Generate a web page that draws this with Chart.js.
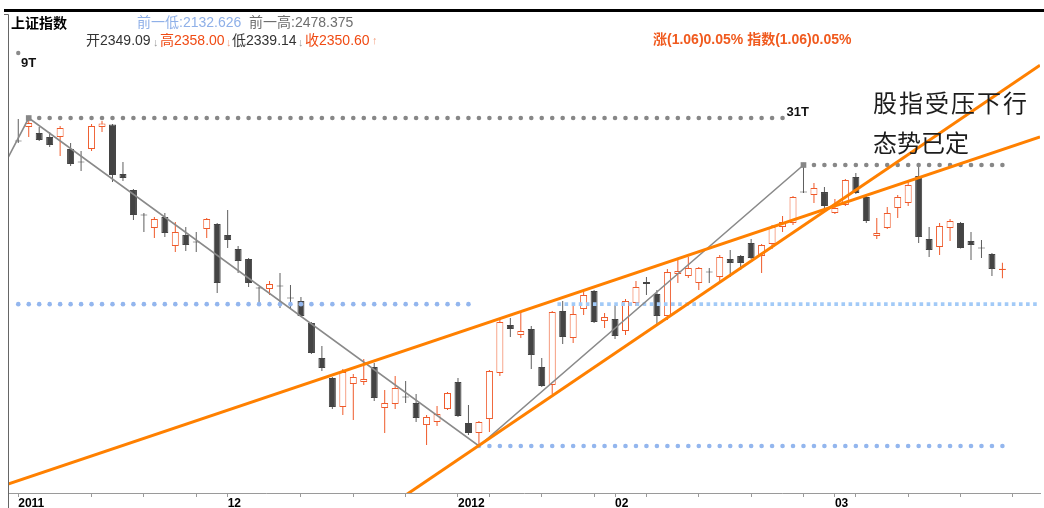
<!DOCTYPE html>
<html><head><meta charset="utf-8">
<script src="https://cdn.jsdelivr.net/npm/chart.js@4.4.0/dist/chart.umd.min.js"></script>
<style>html,body{margin:0;padding:0;background:#fff;overflow:hidden}#wrap{width:1044px;height:508px;position:relative}</style>
</head><body><div id="wrap"><canvas id="c"></canvas></div>
<script>
// ---- data ----
const dayIndex = Array.from({length:95},(_,k)=>k+1);
const openP = [2508.5,2525.1,2517.7,2512.8,2512.8,2498.1,2482.7,2498.1,2525.1,2528.2,
2467.3,2447.6,2417.5,2400.8,2414.4,2378.7,2392.2,2384.2,2399.6,2405.8,
2392.2,2375.0,2362.7,2327.6,2325.8,2330.1,2315.3,2311.0,2284.0,2240.9,
2216.3,2180.6,2208.9,2211.4,2229.8,2179.4,2184.3,2193.5,2185.5,2158.4,
2162.1,2178.1,2211.4,2160.9,2148.6,2165.8,2222.4,2281.5,2269.2,2276.6,
2229.8,2207.7,2298.7,2265.5,2301.2,2323.3,2286.4,2288.9,2274.1,2308.6,
2334.4,2319.6,2292.6,2344.2,2341.8,2333.2,2347.3,2340.6,2362.7,2366.4,
2382.4,2366.4,2381.2,2402.1,2407.0,2445.8,2441.5,2445.1,2419.3,2429.2,
2463.6,2439.0,2391.0,2400.8,2425.5,2431.6,2464.8,2387.3,2377.5,2400.8,
2407.0,2384.9,2376.9,2368.9,2349.09];
const highP = [2535.0,2536.2,2525.1,2519.0,2526.4,2505.4,2495.6,2528.8,2532.5,2528.8,
2482.1,2448.8,2419.3,2414.4,2419.3,2408.2,2402.1,2395.9,2413.2,2407.0,
2423.0,2378.7,2363.9,2328.2,2335.6,2345.5,2330.7,2315.9,2285.2,2255.7,
2217.5,2227.3,2221.2,2239.7,2234.7,2201.5,2218.7,2212.6,2196.6,2170.7,
2181.8,2199.0,2216.3,2183.1,2163.4,2226.1,2290.1,2290.1,2297.5,2280.3,
2240.9,2298.7,2311.0,2306.1,2323.3,2324.6,2296.3,2306.1,2313.5,2335.6,
2340.6,2324.6,2350.4,2361.5,2365.2,2352.9,2351.6,2367.6,2373.8,2367.6,
2387.3,2381.2,2404.5,2415.6,2440.2,2478.375,2456.2,2451.3,2436.5,2461.1,
2468.5,2440.2,2413.2,2426.7,2441.5,2457.5,2475.9,2402.1,2407.0,2411.9,
2408.2,2395.9,2386.1,2370.1,2358.00];
const lowP = [2505.4,2512.8,2507.9,2500.5,2489.4,2477.1,2471.0,2495.6,2519.0,2457.5,
2458.7,2410.7,2395.9,2388.5,2389.8,2371.3,2372.5,2371.3,2388.5,2320.9,
2376.2,2345.5,2328.2,2309.8,2318.4,2302.4,2302.4,2291.3,2245.8,2224.9,
2178.1,2170.7,2164.6,2207.7,2188.0,2148.6,2178.1,2185.5,2162.1,2133.8,
2157.2,2176.9,2168.3,2146.1,2132.63,2149.8,2218.7,2266.7,2265.5,2227.3,
2205.2,2196.6,2258.1,2259.3,2293.8,2284.0,2277.8,2264.3,2269.2,2304.9,
2318.4,2280.3,2287.6,2333.2,2339.3,2324.6,2333.2,2334.4,2340.6,2349.2,
2362.7,2345.5,2375.0,2395.9,2404.5,2443.9,2431.6,2425.5,2418.1,2427.9,
2442.7,2407.0,2387.3,2399.6,2413.2,2427.9,2382.4,2365.2,2367.6,2384.9,
2375.6,2361.5,2363.9,2341.8,2339.14];
const closeP = [2507.3,2530.1,2509.1,2503.0,2523.9,2479.6,2481.4,2526.4,2529.5,2466.1,
2462.4,2416.8,2416.2,2411.9,2394.7,2395.9,2379.9,2383.0,2411.9,2333.2,
2386.1,2360.2,2333.2,2326.4,2331.9,2328.9,2314.1,2292.6,2247.0,2228.6,
2180.6,2223.7,2217.5,2215.0,2191.7,2185.5,2204.0,2192.3,2167.1,2168.3,
2172.0,2197.8,2169.5,2148.6,2162.1,2224.9,2285.2,2276.6,2274.1,2244.6,
2206.4,2297.5,2266.7,2295.0,2318.4,2285.2,2291.3,2268.0,2311.0,2328.2,
2331.9,2292.6,2346.7,2347.9,2351.6,2351.6,2346.1,2365.2,2357.8,2357.8,
2363.9,2379.9,2402.1,2408.2,2439.0,2444.5,2450.1,2427.9,2425.5,2459.9,
2443.9,2409.5,2394.7,2419.3,2439.0,2453.8,2389.8,2373.8,2403.3,2409.5,
2376.2,2379.9,2375.6,2350.4,2350.60];

const tickIndex = [1,8,13,18,21,28,33,38,43,46,51,56,58,61,66,71,76,79,81,86,91,96];
const tickLabels = {1:'2011',21:'12',43:'2012',58:'02',79:'03'};

const prevLow = 2132.626, prevHigh = 2478.375;
const peak9T = 2536.2, peak9TIdx = 2, peak31TIdx = 76, lowIdx = 45;
const supportLevel = 2307.15;
// dotted level lines: [level, first day, last day]
const levelHighRange = [peak9T, 2, 74];
const levelPrevHighRange = [prevHigh, 76, 95];
const levelSupportRange = [supportLevel, 1, 44];
const levelLowRange = [prevLow, 45, 95];
const zigzagIdx = [0, 2, 45, 76];
const zigzagP = [2487.0, 2536.2, 2132.63, 2478.375];
const trendAIdx = [0.02, 98.59], trendAP = [2085.9, 2513.0];
const trendBIdx = [36, 98.59], trendBP = [2054.7, 2601.1];
const marker9TIdx = 1, marker9TP = 2616.2;

// ---- styles ----
const RED = '#ef5a2a', DARK = '#444444', WICKDARK = '#5e5e5e';
const isUp = k => closeP[k] >= openP[k];
const FONT = '"Liberation Sans", "Noto Sans CJK SC", Arial, sans-serif';
const CJK = '"Noto Sans CJK SC", sans-serif';

const pts = (xs, ys) => xs.map((x,k)=>({x, y: ys[k]}));
const levelDots = ([lv, a, b]) => dayIndex.filter(i => i >= a && i <= b).map(i => ({x: i, y: lv}));

const deco = {
  id: 'deco',
  afterDraw(chart){
    const ctx = chart.ctx, xs = chart.scales.x, ys = chart.scales.y;
    ctx.save();
    ctx.fillStyle = '#000';
    ctx.fillRect(4, 9, 1040, 3);
    ctx.strokeStyle = '#666'; ctx.lineWidth = 1;
    ctx.beginPath(); ctx.moveTo(4, 14.5); ctx.lineTo(8.5, 14.5); ctx.lineTo(8.5, 508); ctx.stroke();

    ctx.textBaseline = 'middle'; ctx.textAlign = 'left';
    const put = (t, x, y, color, font) => { ctx.font = font; ctx.fillStyle = color; ctx.fillText(t, x, y); };
    put('上证指数', 11, 23, '#000', 'bold 14px ' + CJK);
    put('前一低:' + prevLow.toFixed(3), 137, 23, '#8fb0e8', '14px ' + FONT);
    put('前一高:' + prevHigh.toFixed(3), 249, 23, '#6e6e6e', '14px ' + FONT);
    put('开2349.09', 86, 41, '#333', '14px ' + FONT);
    put('↓', 153, 43, '#9a9a9a', '11px ' + FONT);
    put('高2358.00', 160, 41, '#f04b14', '14px ' + FONT);
    put('↓', 226, 43, '#f4a080', '11px ' + FONT);
    put('低2339.14', 232, 41, '#333', '14px ' + FONT);
    put('↓', 298, 43, '#9a9a9a', '11px ' + FONT);
    put('收2350.60', 305, 41, '#f04b14', '14px ' + FONT);
    put('↑', 372, 41, '#f4a080', '11px ' + FONT);
    put('涨(1.06)0.05% 指数(1.06)0.05%', 653, 40, '#f05a1e', 'bold 14px ' + FONT);

    put('9T', 21, 63, '#111', 'bold 13px ' + FONT);
    put('31T', xs.getPixelForValue(74) + 4, ys.getPixelForValue(peak9T) - 6, '#111', 'bold 13px ' + FONT);

    ctx.font = '24px ' + CJK; ctx.fillStyle = '#1c1c1c';
    try { ctx.letterSpacing = '2px'; } catch(e) {}
    ctx.fillText('股指受压下行', 873, 103);
    try { ctx.letterSpacing = '0px'; } catch(e) {}
    ctx.fillText('态势已定', 873, 143);
    ctx.restore();
  }
};

const dotSet = (data, color) => ({ type:'line', showLine:false, data, pointRadius:2.3,
  pointBackgroundColor:color, pointBorderWidth:0, pointHoverRadius:0, order:6 });

new Chart(document.getElementById('c'), {
  type: 'bar',
  data: {
    datasets: [
      { type:'bar', data: dayIndex.map((i,k)=>({x:i, y:[lowP[k], highP[k]]})),
        backgroundColor: dayIndex.map((i,k)=> isUp(k) ? RED : WICKDARK),
        barThickness: 1, grouped: false, inflateAmount: 0, borderWidth: 0, order: 20 },
      { type:'bar', data: dayIndex.map((i,k)=>({x:i, y:[openP[k], closeP[k]]})),
        backgroundColor: dayIndex.map((i,k)=> isUp(k) ? '#ffffff' : DARK),
        borderColor: dayIndex.map((i,k)=> isUp(k) ? RED : DARK),
        borderWidth: 1, borderSkipped: false, barThickness: 7, grouped: false, inflateAmount: 0, order: 19 },
      // dotted level lines
      dotSet(levelDots(levelHighRange), '#878787'),
      dotSet(levelDots(levelPrevHighRange), '#878787'),
      dotSet(levelDots(levelSupportRange), '#93b6ee'),
      dotSet(levelDots(levelLowRange), '#93b6ee'),
      { type:'line', data: pts([52.5, 98.59], [supportLevel, supportLevel]), borderColor:'#a2caf7', borderWidth:3.8,
        borderDash:[3.6, 3.5], borderCapStyle:'butt', pointRadius:0, order:6 },
      // zigzag
      { type:'line', data: pts(zigzagIdx, zigzagP), borderColor:'#8a8a8a', borderWidth:1.6, pointRadius:0, tension:0, order:5 },
      // trend lines
      { type:'line', data: pts(trendAIdx, trendAP), borderColor:'#ff8000', borderWidth:3, pointRadius:0, order:2 },
      { type:'line', data: pts(trendBIdx, trendBP), borderColor:'#ff8000', borderWidth:3, pointRadius:0, order:2 },
      // markers
      { type:'line', showLine:false, data: pts([peak9TIdx, peak31TIdx], [peak9T, prevHigh]), pointStyle:'rect',
        pointRadius:4, pointBackgroundColor:'#878787', pointBorderWidth:0, order:3 },
      { type:'line', showLine:false, data: pts([marker9TIdx], [marker9TP]), pointRadius:2.2,
        pointBackgroundColor:'#8a8a8a', pointBorderWidth:0, order:3 }
    ]
  },
  options: {
    responsive: true, maintainAspectRatio: false, animation: false,
    layout: { padding: { left: 8, right: 0, top: 12, bottom: 0 } },
    plugins: { legend: { display: false }, tooltip: { enabled: false } },
    scales: {
      x: {
        type: 'linear', min: 0.02, max: 98.59, offset: false, bounds: 'data',
        afterBuildTicks(s){ s.ticks = tickIndex.map(v => ({ value: v })); },
        afterFit(s){ s.height = 15; },
        ticks: { autoSkip: false, maxRotation: 0, minRotation: 0, align: 'start', padding: -1,
          color: '#000', font: { family: '"Liberation Sans", Arial, sans-serif', size: 12, weight: 'bold' },
          callback: v => tickLabels[v] || '' },
        grid: { display: true, drawOnChartArea: false, drawTicks: true, tickLength: 4, color: '#9a9a9a', offset: false },
        border: { display: true, color: '#9a9a9a', width: 1 }
      },
      y: { type: 'linear', display: false, min: 2074.80, max: 2666.66 }
    }
  },
  plugins: [deco]
});
</script>
</body></html>
